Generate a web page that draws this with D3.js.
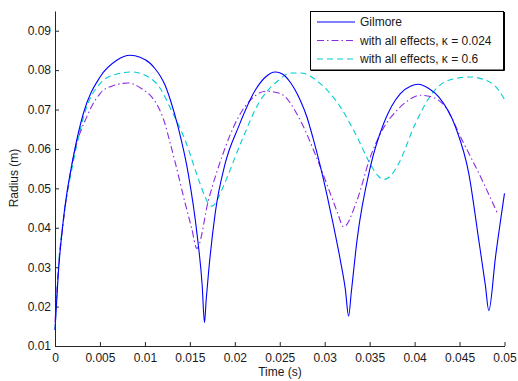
<!DOCTYPE html>
<html><head><meta charset="utf-8">
<script src="https://cdn.jsdelivr.net/npm/d3@7"></script>
<style>body{margin:0;background:#fff}svg{display:block;font-family:"Liberation Sans",Arial,Helvetica,sans-serif}</style>
</head><body><svg id="c" width="518" height="381"></svg>
<script>
const xTicks = [0,0.005,0.01,0.015,0.02,0.025,0.03,0.035,0.04,0.045,0.05];
const xTickLabels = ["0","0.005","0.01","0.015","0.02","0.025","0.03","0.035","0.04","0.045","0.05"];
const yTicks = [0.01,0.02,0.03,0.04,0.05,0.06,0.07,0.08,0.09];
const yTickLabels = ["0.01","0.02","0.03","0.04","0.05","0.06","0.07","0.08","0.09"];
const seriesNames = ["Gilmore","with all effects, \u03ba = 0.024","with all effects, \u03ba = 0.6"];

const gilmoreT = [0,0.000367,0.000924,0.002038,0.003151,0.005011,0.006871,0.008352,0.009465,0.010579,0.011136,0.011693,0.012249,0.012806,0.013697,0.014811,0.015813,0.01637,0.016626,0.016815,0.017071,0.017817,0.018931,0.020412,0.022272,0.023385,0.024499,0.025056,0.025612,0.026169,0.026726,0.027283,0.028029,0.028764,0.02951,0.030256,0.030991,0.031737,0.032294,0.032661,0.032962,0.033597,0.035078,0.036559,0.038419,0.039532,0.04039,0.041537,0.042684,0.044543,0.046024,0.047138,0.047884,0.048252,0.048998,0.05];
const gilmoreR = [0.01406,0.02843,0.04194,0.05799,0.06899,0.07826,0.0825,0.08376,0.08326,0.08174,0.08034,0.07857,0.07616,0.07261,0.06551,0.05385,0.03814,0.02546,0.01591,0.02166,0.02843,0.04364,0.05631,0.06559,0.07489,0.07819,0.07953,0.07928,0.07844,0.07692,0.07489,0.07236,0.06805,0.06222,0.05563,0.04828,0.04042,0.0318,0.02445,0.0176,0.02369,0.03687,0.05545,0.06645,0.07406,0.07591,0.07641,0.0754,0.07319,0.06559,0.05378,0.03687,0.02521,0.01895,0.03256,0.04871];

const k024T = [0,0.000401,0.000902,0.002004,0.00353,0.005011,0.006503,0.008163,0.009699,0.010579,0.011325,0.012249,0.012728,0.013363,0.014477,0.0152,0.01578,0.017071,0.018563,0.020412,0.021904,0.023497,0.025056,0.027283,0.028764,0.030624,0.031403,0.032105,0.033597,0.035078,0.036526,0.038051,0.03931,0.040646,0.041982,0.04343,0.04529,0.047517,0.049187];
const k024R = [0.01601,0.03,0.041,0.0575,0.06813,0.07406,0.07608,0.07674,0.0752,0.07363,0.07134,0.06627,0.06222,0.05664,0.04625,0.03991,0.03477,0.04701,0.05798,0.06812,0.07279,0.07464,0.07406,0.06729,0.05968,0.04871,0.04397,0.04024,0.04701,0.05798,0.06526,0.06982,0.07236,0.07362,0.07312,0.07066,0.06222,0.05208,0.04379];

const k06T = [0,0.000401,0.000902,0.002004,0.00353,0.005011,0.006704,0.008541,0.0102,0.011693,0.012249,0.012728,0.014477,0.015958,0.016704,0.017094,0.01745,0.017817,0.018151,0.018931,0.020791,0.022639,0.024866,0.026169,0.027283,0.02951,0.031737,0.033597,0.035078,0.035857,0.036559,0.037305,0.038229,0.040089,0.041949,0.043797,0.046214,0.04863,0.05];
const k06R = [0.01406,0.03079,0.04143,0.05639,0.07066,0.07659,0.0789,0.07953,0.07849,0.0754,0.07312,0.07084,0.06222,0.05233,0.04777,0.046,0.0455,0.04612,0.04752,0.05157,0.06222,0.07152,0.07743,0.07928,0.07928,0.07659,0.07066,0.06305,0.05613,0.05335,0.05226,0.05309,0.05631,0.06645,0.07406,0.07743,0.07826,0.07659,0.07261];

const svg = d3.select("#c");
const x = d3.scaleLinear().domain([0,0.05]).range([55,504.5]);
const y = d3.scaleLinear().domain([0.01,0.095]).range([346,11]);
const axisColor = "#262626";

const series = [
  {name: seriesNames[0], t: gilmoreT, r: gilmoreR, color: "#0000ff", dash: null},
  {name: seriesNames[1], t: k024T, r: k024R, color: "#8a2be2", dash: "7,3,1.5,3"},
  {name: seriesNames[2], t: k06T, r: k06R, color: "#00ced1", dash: "6,4"}
];
const line = d3.line().x(d=>x(d[0])).y(d=>y(d[1])).curve(d3.curveMonotoneX);
series.slice().reverse().forEach(s=>{
  svg.append("path").datum(s.t.map((t,i)=>[t,s.r[i]]))
    .attr("d", line).attr("fill","none").attr("stroke", s.color)
    .attr("stroke-width", 1.1).attr("stroke-dasharray", s.dash);
});

// axes
const xa = svg.append("g").attr("transform","translate(0,346)")
  .call(d3.axisBottom(x).tickValues(xTicks).tickFormat((d,i)=>xTickLabels[i]).tickSizeInner(-4).tickSizeOuter(0).tickPadding(7));
const ya = svg.append("g").attr("transform","translate(55,0)")
  .call(d3.axisLeft(y).tickValues(yTicks).tickFormat((d,i)=>yTickLabels[i]).tickSizeInner(-4).tickSizeOuter(0).tickPadding(4));
[xa,ya].forEach(a=>{
  a.select(".domain").attr("stroke",axisColor);
  a.selectAll(".tick line").attr("stroke",axisColor);
  a.selectAll("text").attr("fill","#1a1a1a").attr("font-size","12px").attr("font-family","Liberation Sans, Arial, sans-serif");
});
svg.append("text").attr("x",280).attr("y",376).attr("text-anchor","middle").attr("font-size","12px").attr("fill","#1a1a1a").text("Time (s)");
svg.append("text").attr("transform","translate(18,178) rotate(-90)").attr("text-anchor","middle").attr("font-size","12px").attr("fill","#1a1a1a").text("Radius (m)");

// legend
const lg = svg.append("g");
lg.append("rect").attr("x",310.5).attr("y",11.5).attr("width",193).attr("height",58.5).attr("fill","#fff").attr("stroke","#000").attr("stroke-width",1);
lg.append("path").attr("d","M311,70.5H504.5V12").attr("fill","none").attr("stroke","#000").attr("stroke-width",1);
const rows = [22,40.5,59];
series.forEach((s,i)=>{
  lg.append("line").attr("x1",317).attr("x2",355).attr("y1",rows[i]).attr("y2",rows[i])
    .attr("stroke",s.color).attr("stroke-width",1.1).attr("stroke-dasharray",s.dash);
  lg.append("text").attr("x",360).attr("y",rows[i]+4.3).attr("font-size","12px").attr("fill","#1a1a1a").text(s.name);
});
</script></body></html>
